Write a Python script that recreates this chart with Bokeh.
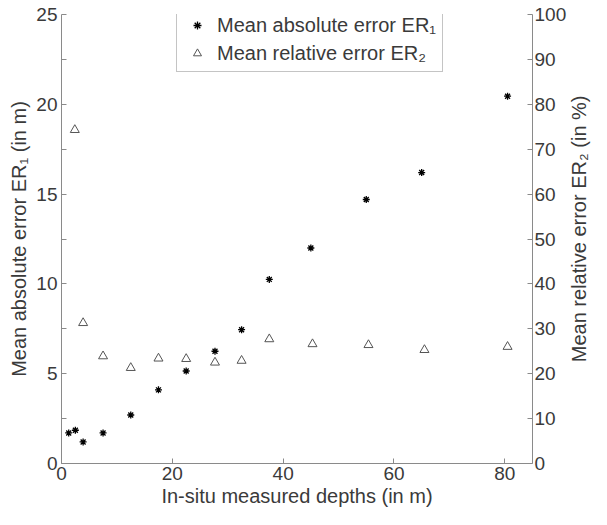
import math
from bokeh.plotting import figure
from bokeh.layouts import row
from bokeh.models import Range1d, LinearAxis, FixedTicker, Legend, LegendItem, Label
from bokeh.embed import file_html
from bokeh.resources import INLINE

# ---- data ----
depth_abs = [1.3, 2.5, 3.9, 7.5, 12.5, 17.5, 22.5, 27.7, 32.5, 37.5, 45, 55, 65, 80.5]
er1_abs = [1.7, 1.85, 1.2, 1.7, 2.7, 4.1, 5.15, 6.25, 7.45, 10.25, 12.0, 14.7, 16.2, 20.45]
depth_rel = [2.4, 3.9, 7.5, 12.5, 17.5, 22.5, 27.7, 32.5, 37.5, 45.3, 55.4, 65.5, 80.5]
er2_rel = [74.3, 31.3, 23.9, 21.3, 23.4, 23.3, 22.5, 22.9, 27.7, 26.6, 26.4, 25.3, 26.0]

x_ticks = [0, 20, 40, 60, 80]
left_ticks = [0, 5, 10, 15, 20, 25]
left_minor = [2.5, 7.5, 12.5, 17.5, 22.5]
right_ticks = [0, 10, 20, 30, 40, 50, 60, 70, 80, 90, 100]

x_title = "In-situ measured depths (in m)"
left_title = "Mean absolute error ER\u2081 (in m)"
right_title = "Mean relative error ER\u2082 (in %)"
leg1 = "Mean absolute error ER\u2081"
leg2 = "Mean relative error ER\u2082"

FONT = "Liberation Sans"
TXT = "#3a3a3a"
AX = "#8a8a8a"
TICK_FS = "19px"
TITLE_FS = "20px"

H = 509
TOP, BOTTOM = 14, 37
p = figure(width=569, height=H, x_range=Range1d(0, 85), y_range=Range1d(0, 25),
           output_backend="svg", toolbar_location=None,
           min_border_left=61, min_border_right=31, min_border_top=TOP,
           min_border_bottom=BOTTOM)
p.extra_y_ranges = {"rel": Range1d(0, 100)}
p.outline_line_color = None
p.xgrid.grid_line_color = None
p.ygrid.grid_line_color = None
p.background_fill_color = "white"
p.border_fill_color = "white"


def style(ax):
    ax.axis_line_color = AX
    ax.major_tick_line_color = AX
    ax.minor_tick_line_color = AX
    ax.major_tick_in = 5
    ax.major_tick_out = 0
    ax.minor_tick_in = 5
    ax.minor_tick_out = 0
    ax.major_label_text_font = FONT
    ax.major_label_text_font_size = TICK_FS
    ax.major_label_text_color = TXT
    ax.axis_label_text_font = FONT
    ax.axis_label_text_font_size = TITLE_FS
    ax.axis_label_text_font_style = "normal"
    ax.axis_label_text_color = TXT


xa = p.xaxis[0]
style(xa)
xa.ticker = FixedTicker(ticks=x_ticks)
xa.axis_label = x_title
xa.major_label_standoff = 3
xa.axis_label_standoff = 2

ya = p.yaxis[0]
style(ya)
ya.ticker = FixedTicker(ticks=left_ticks, minor_ticks=left_minor)
ya.axis_label = left_title
ya.major_label_standoff = 4
ya.axis_label_standoff = 3

ra = LinearAxis(y_range_name="rel")
style(ra)
ra.ticker = FixedTicker(ticks=right_ticks)
ra.major_label_standoff = 2
p.add_layout(ra, "right")

r1 = p.scatter(depth_abs, er1_abs, marker="asterisk", size=7, line_color="black",
               line_width=1.3)
r2 = p.scatter(depth_rel, er2_rel, marker="triangle", size=9, fill_color=None,
               line_color="#555555", line_width=1, y_range_name="rel")

legend = Legend(items=[LegendItem(label=leg1, renderers=[r1]),
                       LegendItem(label=leg2, renderers=[r2])],
                location=(115, 391), margin=0, padding=6, spacing=4,
                glyph_width=28, label_standoff=6, label_height=24,
                label_text_font=FONT, label_text_font_size=TITLE_FS, label_text_color=TXT,
                border_line_color=AX, border_line_width=1, background_fill_alpha=1)
p.add_layout(legend, "center")

# narrow strip holding the right-hand axis title (reads bottom-to-top)
q = figure(width=22, height=H, x_range=Range1d(0, 1), y_range=Range1d(0, 1),
           output_backend="svg", toolbar_location=None, min_border=0,
           x_axis_type=None, y_axis_type=None)
q.outline_line_color = None
q.xgrid.grid_line_color = None
q.ygrid.grid_line_color = None
q.border_fill_color = "white"
q.background_fill_color = "white"
q.add_layout(Label(x=0.45, y=(BOTTOM + 0.5 * (H - TOP - BOTTOM)) / H, text=right_title,
                   angle=math.pi / 2, text_align="center", text_baseline="middle",
                   text_font=FONT, text_font_size=TITLE_FS, text_color=TXT))

layout = row(p, q, spacing=0)
open("out.html", "w").write(file_html(layout, INLINE))
